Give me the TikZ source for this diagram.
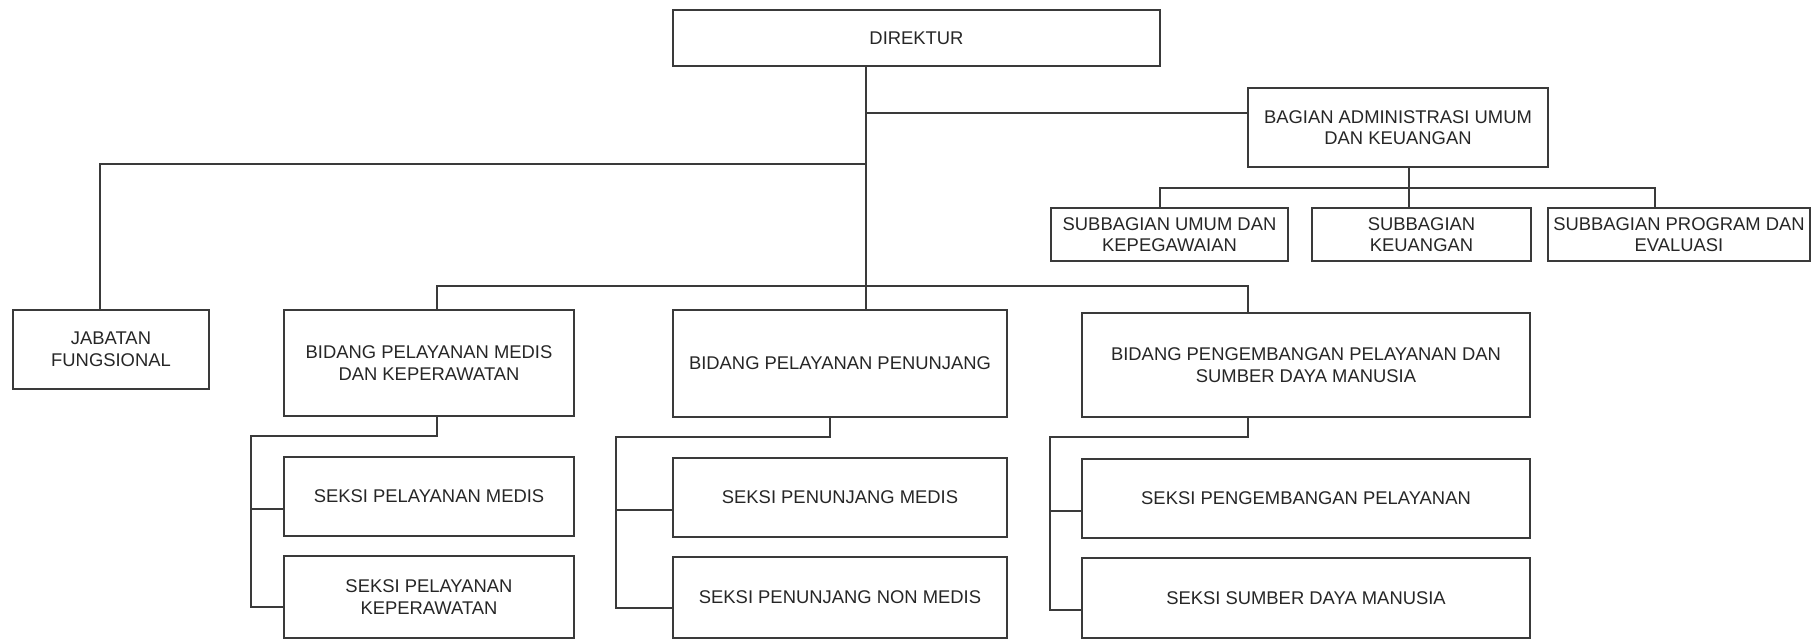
\documentclass[tikz,border=0pt]{standalone}
\usepackage{fontspec}
\setmainfont{Liberation Sans}
\usepackage{xcolor}
\usepackage{tikz}
\usetikzlibrary{positioning, calc}
\definecolor{chart-line}{HTML}{3A3A3A}
\definecolor{chart-text}{HTML}{262626}

\begin{document}
\begin{tikzpicture}[x=0.5pt, y=-0.5pt,
    unit/.style={draw=chart-line, line width=1pt, align=center, inner sep=0pt,
        text=chart-text, font=\fontsize{9.2}{10.8}\selectfont},
    link/.style={draw=chart-line, line width=1pt}]
    \useasboundingbox (0,0) rectangle (1811,640);

    % Top level
    \node[unit, minimum width=243.5pt, minimum height=28pt] (dir) at (916.5,38) {DIREKTUR};
    \node[unit, minimum width=150pt, minimum height=39.5pt] (bag) at (1398,127.5)
        {BAGIAN ADMINISTRASI UMUM\\DAN KEUANGAN};

    % Subbagian
    \node[unit, minimum width=118.5pt, minimum height=26.5pt] (subumum) at (1169.5,234.5)
        {SUBBAGIAN UMUM DAN\\KEPEGAWAIAN};
    \node[unit, minimum width=109.5pt, minimum height=26.5pt] (subkeu) at (1421.5,234.5)
        {SUBBAGIAN\\KEUANGAN};
    \node[unit, minimum width=131pt, minimum height=26.5pt] (subprog) at (1679,234.5)
        {SUBBAGIAN PROGRAM DAN\\EVALUASI};

    % Bidang
    \node[unit, minimum width=98pt, minimum height=39.5pt] (jab) at (111,349.5)
        {JABATAN\\FUNGSIONAL};
    \node[unit, minimum width=145pt, minimum height=53pt] (bmedis) at (429,363)
        {BIDANG PELAYANAN MEDIS\\DAN KEPERAWATAN};
    \node[unit, minimum width=167pt, minimum height=53.5pt] (bpenunjang) at (840,363.5)
        {BIDANG PELAYANAN PENUNJANG};
    \node[unit, minimum width=224pt, minimum height=52pt] (bsdm) at (1306,365)
        {BIDANG PENGEMBANGAN PELAYANAN DAN\\SUMBER DAYA MANUSIA};

    % Seksi
    \node[unit, minimum width=145pt, minimum height=39.5pt] (smedis) at (429,496.5)
        {SEKSI PELAYANAN MEDIS};
    \node[unit, minimum width=145pt, minimum height=41pt] (srawat) at (429,597)
        {SEKSI PELAYANAN\\KEPERAWATAN};
    \node[unit, minimum width=167pt, minimum height=39.5pt] (spmedis) at (840,497.5)
        {SEKSI PENUNJANG MEDIS};
    \node[unit, minimum width=167pt, minimum height=40.5pt] (spnon) at (840,597.5)
        {SEKSI PENUNJANG NON MEDIS};
    \node[unit, minimum width=224pt, minimum height=39.5pt] (spengembangan) at (1306,498.5)
        {SEKSI PENGEMBANGAN PELAYANAN};
    \node[unit, minimum width=224pt, minimum height=40pt] (ssdm) at (1306,598)
        {SEKSI SUMBER DAYA MANUSIA};

    % Bend points
    \coordinate (trunk) at (866,0);
    \coordinate (bagline) at (866,113);
    \coordinate (jabline) at (100,164);
    \coordinate (bidbusL) at (437,286);
    \coordinate (bidbusR) at (1248,286);
    \coordinate (subbusL) at (1160,188);
    \coordinate (subbusR) at (1655,188);
    \coordinate (subdrop) at (1409,0);
    \coordinate (medbend) at (251,436);
    \coordinate (penbend) at (616,437);
    \coordinate (sdmbend) at (1050,437);

    % Direktur lines
    \draw[link] (dir.south -| trunk) -- (bpenunjang.north -| trunk);
    \draw[link] (bagline) -- (bagline -| bag.west);
    \draw[link] (jabline -| trunk) -- (jabline) -- (jab.north -| jabline);
    \draw[link] (bidbusL |- bmedis.north) -- (bidbusL) -- (bidbusR) -- (bidbusR |- bsdm.north);

    % Bagian lines
    \draw[link] (bag.south -| subdrop) -- (subkeu.north -| subdrop);
    \draw[link] (subumum.north -| subbusL) -- (subbusL) -- (subbusR) -- (subprog.north -| subbusR);

    % Seksi lines
    \draw[link] (bmedis.south -| bidbusL) -- (bidbusL |- medbend) -- (medbend) -- (medbend |- 0,607) -- (srawat.west |- 0,607);
    \draw[link] (medbend |- 0,509) -- (smedis.west |- 0,509);
    \draw[link] (bpenunjang.south -| 830,0) -- (830,437) -- (penbend) -- (penbend |- 0,608) -- (spnon.west |- 0,608);
    \draw[link] (penbend |- 0,510) -- (spmedis.west |- 0,510);
    \draw[link] (bsdm.south -| bidbusR) -- (bidbusR |- sdmbend) -- (sdmbend) -- (sdmbend |- 0,610) -- (ssdm.west |- 0,610);
    \draw[link] (sdmbend |- 0,511) -- (spengembangan.west |- 0,511);
\end{tikzpicture}
\end{document}
